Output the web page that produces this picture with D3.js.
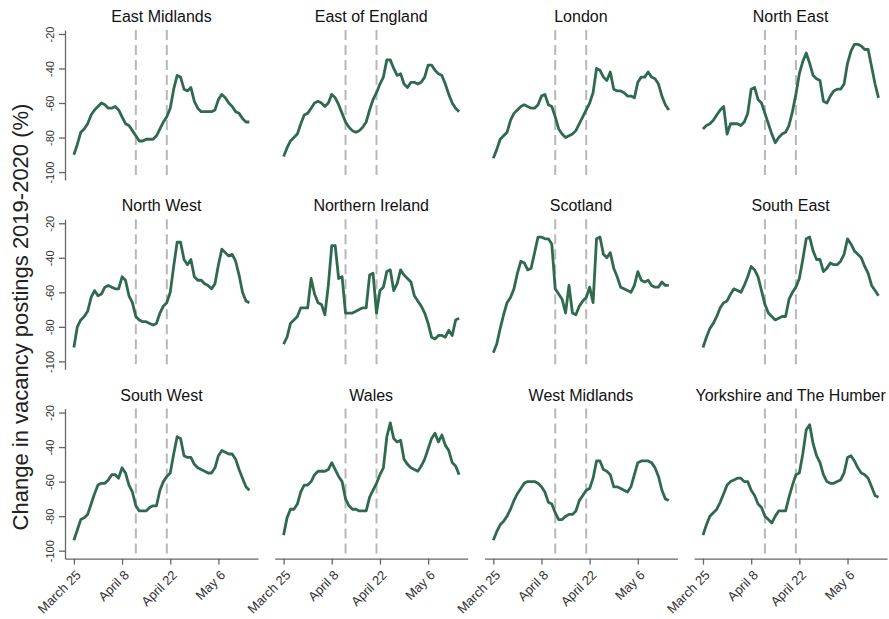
<!DOCTYPE html>
<html>
<head>
<meta charset="utf-8">
<script src="https://cdn.jsdelivr.net/npm/d3@7"></script>
<style>
  body { margin: 0; background: #fff; }
  svg { display: block; font-family: "Liberation Sans", Arial, sans-serif; }
</style>
</head>
<body>
<svg width="889" height="619"></svg>
<script>
// regions in panel order (row by row)
var regions = ['East Midlands', 'East of England', 'London', 'North East',
  'North West', 'Northern Ireland', 'Scotland', 'South East',
  'South West', 'Wales', 'West Midlands', 'Yorkshire and The Humber'];

var firstDay = '2020-03-25';
var tickDates = ['2020-03-25', '2020-04-08', '2020-04-22', '2020-05-06'];
var tickLabels = ['March 25', 'April 8', 'April 22', 'May 6'];
var markerDates = ['2020-04-12', '2020-04-21'];
var yTicks = [-20, -40, -60, -80, -100];

// daily change in postings, % (March 25 to May 15)
var eastMidlands = [-90, -84, -77, -75, -72, -67, -64, -62, -60, -61, -63, -63, -62, -64, -68, -72, -73, -76, -79, -82, -82, -81, -81, -81, -79, -75,
  -71, -68, -63, -52, -44, -45, -52, -53, -51, -59, -63, -65, -65, -65, -65, -64, -58, -55, -57, -60, -62, -65, -66, -69, -71, -71];
var eastOfEngland = [-91, -86, -82, -80, -78, -72, -67, -66, -63, -60, -59, -60, -62, -60, -55, -57, -61, -66, -71, -74, -76, -77, -76, -74, -71, -64,
  -58, -54, -49, -45, -35, -35, -40, -44, -43, -49, -51, -48, -48, -49, -48, -45, -38, -38, -41, -43, -44, -49, -55, -60, -63, -65];
var london = [-92, -87, -81, -79, -77, -70, -66, -64, -62, -61, -62, -63, -63, -61, -56, -55, -61, -62, -68, -75, -78, -80, -79, -78, -76, -72,
  -68, -64, -60, -54, -40, -41, -45, -47, -42, -52, -53, -53, -54, -56, -56, -57, -48, -45, -45, -42, -45, -46, -49, -56, -61, -64];
var northEast = [-75, -73, -72, -70, -67, -64, -62, -78, -72, -72, -72, -73, -71, -66, -52, -51, -58, -60, -66, -72, -78, -83, -80, -78, -77, -73,
  -65, -55, -43, -36, -31, -37, -44, -46, -47, -59, -60, -56, -53, -52, -52, -49, -37, -30, -26, -26, -27, -29, -29, -39, -49, -57];
var northWest = [-92, -80, -76, -74, -71, -63, -59, -62, -61, -57, -56, -57, -58, -58, -51, -53, -62, -66, -74, -76, -77, -77, -78, -79, -78, -72,
  -68, -66, -60, -45, -31, -31, -41, -44, -41, -51, -53, -53, -55, -56, -58, -55, -44, -35, -37, -39, -38, -42, -50, -60, -65, -66];
var northernIreland = [-90, -86, -78, -76, -74, -69, -69, -69, -52, -61, -66, -67, -73, -56, -33, -33, -52, -51, -72, -72, -72, -71, -70, -69, -69, -50,
  -49, -72, -59, -57, -48, -47, -59, -55, -47, -50, -52, -54, -62, -65, -68, -72, -78, -86, -87, -85, -85, -86, -82, -85, -76, -75];
var scotland = [-95, -90, -81, -73, -66, -63, -58, -49, -42, -43, -47, -46, -37, -28, -28, -29, -29, -32, -58, -61, -64, -72, -56, -72, -73, -68,
  -65, -63, -57, -66, -29, -28, -38, -40, -37, -46, -51, -57, -58, -59, -60, -56, -48, -53, -54, -53, -56, -57, -57, -54, -56, -56];
var southEast = [-92, -86, -81, -78, -74, -69, -66, -65, -61, -58, -59, -60, -56, -51, -45, -47, -51, -59, -67, -72, -74, -76, -75, -74, -74, -64,
  -60, -57, -52, -41, -29, -28, -36, -41, -41, -48, -46, -43, -44, -44, -42, -38, -29, -32, -36, -38, -40, -45, -49, -56, -59, -62];
var southWest = [-94, -88, -82, -81, -79, -73, -67, -62, -61, -61, -59, -56, -56, -58, -52, -55, -62, -66, -74, -77, -77, -77, -75, -74, -74, -65,
  -60, -57, -55, -44, -34, -35, -45, -46, -46, -50, -52, -53, -54, -55, -55, -52, -45, -42, -43, -44, -44, -47, -53, -58, -63, -65];
var wales = [-91, -81, -76, -76, -73, -66, -62, -62, -60, -56, -54, -54, -54, -53, -49, -53, -57, -60, -70, -74, -76, -76, -77, -77, -77, -69,
  -65, -61, -56, -52, -34, -26, -35, -37, -36, -47, -50, -52, -53, -54, -51, -47, -41, -35, -32, -37, -33, -39, -42, -49, -51, -56];
var westMidlands = [-94, -89, -85, -83, -80, -76, -71, -67, -64, -61, -60, -60, -60, -61, -63, -66, -72, -73, -78, -82, -82, -80, -79, -79, -77, -71,
  -68, -65, -64, -58, -48, -48, -53, -54, -56, -63, -63, -64, -65, -66, -63, -56, -49, -48, -48, -48, -49, -52, -57, -65, -70, -71];
var yorkshire = [-91, -85, -80, -78, -76, -72, -67, -62, -60, -59, -58, -58, -60, -60, -65, -68, -73, -75, -80, -82, -84, -80, -77, -77, -77, -69,
  -62, -56, -55, -44, -30, -27, -38, -45, -49, -56, -60, -61, -61, -60, -59, -55, -46, -45, -48, -52, -55, -56, -58, -63, -68, -69];

var series = [eastMidlands, eastOfEngland, london, northEast, northWest, northernIreland,
  scotland, southEast, southWest, wales, westMidlands, yorkshire];

var panelW = 193, panelH = 150, marginLeft = 65, marginTop = 30, colStep = 209.7, rowStep = 189.3;
var lineColor = '#2f6a4f';

var parse = d3.utcParse('%Y-%m-%d');
var day0 = parse(firstDay);
var dates = d3.utcDay.range(day0, d3.utcDay.offset(day0, eastMidlands.length));

var x = d3.scaleUtc()
  .domain([d3.utcHour.offset(day0, -62), d3.utcHour.offset(day0, 1284)])
  .range([0, panelW]);
var y = d3.scaleLinear().domain([-104.6, -17.7]).range([panelH, 0]);

var line = d3.line()
  .x(function (d, j) { return x(dates[j]); })
  .y(function (d) { return y(d); });

var svg = d3.select('svg');

svg.append('text')
  .attr('transform', 'translate(28,317) rotate(-90)')
  .attr('text-anchor', 'middle')
  .attr('font-size', 22)
  .attr('fill', '#222')
  .text('Change in vacancy postings 2019-2020 (%)');

regions.forEach(function (name, i) {
  var c = i % 4, r = Math.floor(i / 4);
  var g = svg.append('g')
    .attr('transform', 'translate(' + (marginLeft + c * colStep) + ',' + (marginTop + r * rowStep) + ')');

  g.append('text')
    .attr('x', panelW / 2).attr('y', -8)
    .attr('text-anchor', 'middle')
    .attr('font-size', 16)
    .attr('fill', '#111')
    .text(name);

  // lockdown markers
  g.selectAll('line.marker').data(markerDates).enter().append('line')
    .attr('class', 'marker')
    .attr('x1', function (d) { return x(parse(d)); })
    .attr('x2', function (d) { return x(parse(d)); })
    .attr('y1', 0).attr('y2', panelH)
    .attr('stroke', '#b8b8b8')
    .attr('stroke-width', 2)
    .attr('stroke-dasharray', '10,5');

  g.append('path')
    .datum(series[i])
    .attr('d', line)
    .attr('fill', 'none')
    .attr('stroke', lineColor)
    .attr('stroke-width', 2.8)
    .attr('stroke-linejoin', 'round');

  if (c == 0) {
    var ya = g.append('g')
      .call(d3.axisLeft(y).tickValues(yTicks).tickSize(6).tickSizeOuter(0)
        .tickFormat(function (d) { return String(d); }));
    ya.select('.domain').attr('stroke', '#666').attr('stroke-width', 1.3);
    ya.selectAll('line').attr('stroke', '#666').attr('stroke-width', 1.3);
    ya.selectAll('text')
      .attr('x', null).attr('dy', null)
      .attr('transform', 'translate(-11,0) rotate(-90)')
      .attr('text-anchor', 'middle')
      .attr('font-size', 11)
      .attr('font-family', '"Liberation Sans", Arial, sans-serif')
      .attr('fill', '#333');
  }

  if (r == 2) {
    var xa = g.append('g')
      .attr('transform', 'translate(0,' + panelH + ')')
      .call(d3.axisBottom(x).tickValues(tickDates.map(parse)).tickSize(6).tickSizeOuter(0)
        .tickFormat(function (d, k) { return tickLabels[k]; }));
    xa.select('.domain').attr('stroke', '#666').attr('stroke-width', 1.3);
    xa.selectAll('line').attr('stroke', '#666').attr('stroke-width', 1.3);
    xa.selectAll('text')
      .attr('y', null).attr('dy', '0.35em')
      .attr('transform', 'translate(4,14) rotate(-45)')
      .attr('text-anchor', 'end')
      .attr('font-size', 13)
      .attr('font-family', '"Liberation Sans", Arial, sans-serif')
      .attr('fill', '#333');
  }
});
</script>
</body>
</html>
